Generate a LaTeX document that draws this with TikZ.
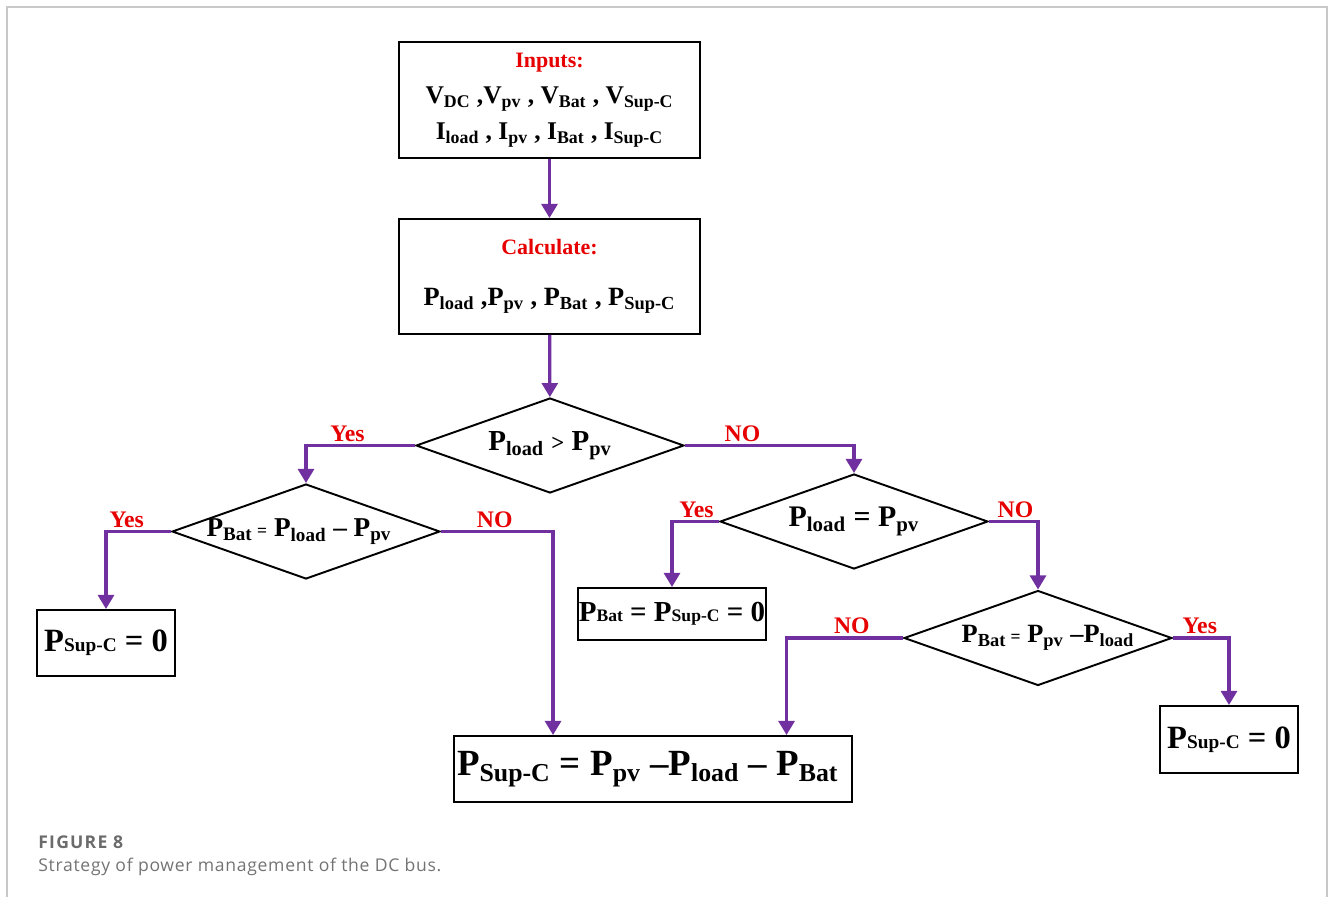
\documentclass[tikz,border=0pt]{standalone}
\usepackage{fontspec}
\setmainfont{Liberation Serif}
\newfontfamily\capfont[LetterSpace=4]{Open Sans}
\newfontfamily\capfontwide[LetterSpace=7]{Open Sans}
\usetikzlibrary{shapes.geometric,arrows.meta,calc}
\definecolor{flowpurple}{RGB}{112,48,160}
\definecolor{labred}{RGB}{230,0,0}
\definecolor{framegray}{RGB}{200,200,200}
\tikzset{
  box/.style={draw, line width=1.1pt, align=center, inner sep=0pt},
  cond/.style={diamond, draw, line width=1.1pt, minimum width=5.36cm, minimum height=1.9cm, inner sep=0pt},
  condtext/.style={inner sep=0pt, font=\bfseries},
  flow/.style={draw=flowpurple, line width=1.8pt, -{Triangle[width=9pt,length=8pt]}},
  yesno/.style={text=labred, font=\bfseries\fontsize{13.5}{14}\selectfont, above=0.5pt, inner sep=1pt},
}
\newcommand{\bsub}[2]{{\fontsize{#1}{#1}\selectfont #2}}
\begin{document}
\begin{tikzpicture}[x=0.02cm,y=-0.02cm]
    \useasboundingbox (0,0) rectangle (1330,897);
    \draw[framegray, line width=0.6pt] (7,897) -- (7,7) -- (1327,7) -- (1327,897);
    %% first two boxes
    \node[box, minimum width=6.02cm, minimum height=2.32cm, font=\bfseries\fontsize{14.5}{20.5}\selectfont] (inp) at (549.5,100)
      {{\color{labred}\fontsize{12.5}{14}\selectfont Inputs:}\\[0pt]
       V\textsubscript{DC} ,V\textsubscript{pv} , V\textsubscript{Bat} , V\textsubscript{Sup-C}\\
       I\textsubscript{load} , I\textsubscript{pv} , I\textsubscript{Bat} , I\textsubscript{Sup-C}};
    \node[box, minimum width=6.02cm, minimum height=2.30cm, font=\bfseries\fontsize{15}{20}\selectfont] (calc) at (549.5,276.5)
      {{\color{labred}\fontsize{12.5}{14}\selectfont Calculate:}\\[9pt]
       P\textsubscript{load} ,P\textsubscript{pv} , P\textsubscript{Bat} , P\textsubscript{Sup-C}};
    %% decisions
    \node[cond, label={[condtext, font=\bfseries\fontsize{16.5}{18}\selectfont]center:{P\textsubscript{load} {\fontsize{13}{13}\selectfont >} P\textsubscript{pv}}}] (c1) at (550,445.5) {};
    \node[cond, label={[condtext, xshift=-7*0.02cm, font=\bfseries\fontsize{15.5}{18}\selectfont]center:{P\textsubscript{Bat}\,{\fontsize{10}{10}\selectfont =} P\textsubscript{load} -- P\textsubscript{pv}}}] (c2) at (306,531.5) {};
    \node[cond, label={[condtext, font=\bfseries\fontsize{17}{20}\selectfont]center:{P\textsubscript{load} = P\textsubscript{pv}}}] (c3) at (854,521.5) {};
    \node[cond, label={[condtext, xshift=10*0.02cm, font=\bfseries\fontsize{15}{18}\selectfont]center:{P\textsubscript{Bat}\,{\fontsize{10}{10}\selectfont =} P\textsubscript{pv} --P\textsubscript{load}}}] (c4) at (1038,638) {};
    %% results
    \node[box, minimum width=2.76cm, minimum height=1.32cm, font=\bfseries\fontsize{18.5}{20}\selectfont] (supL) at (106,643)
      {P\bsub{11}{Sup-C} = 0};
    \node[box, minimum width=3.76cm, minimum height=1.04cm, font=\bfseries\fontsize{16.5}{20}\selectfont] (batz) at (672,614)
      {P\bsub{10}{Bat} = P\bsub{10}{Sup-C} = 0};
    \node[box, minimum width=2.76cm, minimum height=1.34cm, font=\bfseries\fontsize{18.5}{20}\selectfont] (supR) at (1229,739.5)
      {P\bsub{11}{Sup-C} = 0};
    \node[box, minimum width=7.96cm, minimum height=1.32cm, font=\bfseries\fontsize{21}{24}\selectfont] (res) at (653,769)
      {\hspace*{-6pt}P\textsubscript{Sup-C} = P\textsubscript{pv} --P\textsubscript{load} -- P\textsubscript{Bat}};
    \coordinate (resA) at ($(res.north west)!0.25!(res.north east)$);
    \coordinate (resB) at ($(res.north west)!0.834!(res.north east)$);
    %% connectors
    \draw[flow] (inp) -- (calc);
    \draw[flow] (calc) -- (c1);
    \draw[flow] (c1.west) -| node[yesno, pos=0.31] (y1) {Yes} (c2.north);
    \draw[flow] (c1.east) -| node[yesno, pos=0.17] (n1) {NO} (c3.north);
    \draw[flow] (c2.west) -| node[yesno, pos=0.34] (y2) {Yes} (supL.north);
    \draw[flow] (c2.east) -| node[yesno, pos=0.24] (n2) {NO} (resA);
    \draw[flow] (c3.west) -| node[yesno, pos=0.24] (y3) {Yes} (batz.north);
    \draw[flow] (c3.east) -| node[yesno, pos=0.27] (n3) {NO} (c4.north);
    \draw[flow] (c4.west) -| node[yesno, pos=0.22] (n4) {NO} (resB);
    \draw[flow] (c4.east) -| node[yesno, pos=0.24] (y4) {Yes} (supR.north);
    %% caption
    \node[anchor=base west, inner sep=0pt, text=black!58, font=\capfontwide\bfseries\fontsize{10}{11}\selectfont] (fig) at (38,848) {FIGURE 8};
    \node[anchor=base west, inner sep=0pt, text=black!55, font=\capfont\fontsize{10}{11}\selectfont] (cap) at (38,871) {Strategy of power management of the DC bus.};
\end{tikzpicture}
\end{document}
